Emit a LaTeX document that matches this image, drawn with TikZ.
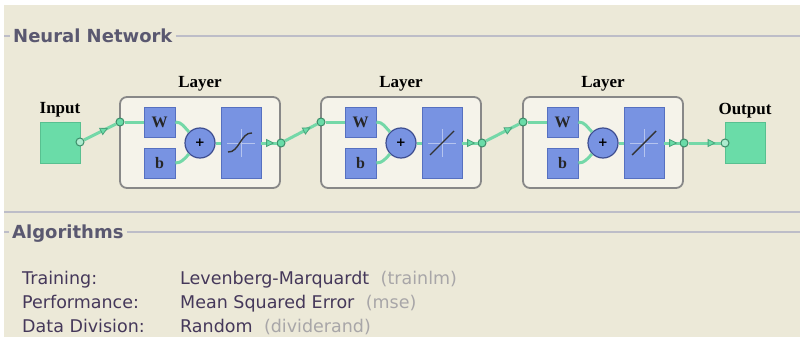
\documentclass[tikz,border=0pt]{standalone}
\usepackage{fontspec}
\setmainfont{DejaVu Sans}
\newfontfamily\netfont{Liberation Serif}
\usetikzlibrary{arrows.meta}
\usetikzlibrary{positioning}
\usetikzlibrary{decorations.markings}

\definecolor{panelbg}{HTML}{ECE9D8}
\definecolor{layerbg}{HTML}{F5F3EA}
\definecolor{layerline}{HTML}{888888}
\definecolor{nnblue}{HTML}{7893E2}
\definecolor{nnblueline}{HTML}{5670C0}
\definecolor{sumline}{HTML}{3E4E90}
\definecolor{nngreen}{HTML}{6ADCA8}
\definecolor{nngreenline}{HTML}{58C090}
\definecolor{wirecol}{HTML}{74D8A8}
\definecolor{juncline}{HTML}{3C8C68}
\definecolor{titlecol}{HTML}{5A5870}
\definecolor{keycol}{HTML}{45385A}
\definecolor{parencol}{HTML}{A8A6A8}
\definecolor{rulecol}{HTML}{BDBDC8}

\tikzset{
    panel/.style = {fill=layerbg, draw=layerline, line width=1.8pt, rounded corners=7pt,
        minimum width=160pt, minimum height=91pt, inner sep=0pt},
    weight/.style = {fill=nnblue, draw=nnblueline, line width=0.8pt, minimum width=31pt,
        minimum height=30pt, inner sep=0pt, text=black!85,
        font=\netfont\bfseries\fontsize{16}{16}\selectfont},
    sum/.style = {circle, fill=nnblue, draw=sumline, line width=1.2pt, minimum size=30pt,
        inner sep=0pt, font=\bfseries\fontsize{12}{12}\selectfont},
    transfer/.style = {fill=nnblue, draw=nnblueline, line width=0.8pt, minimum width=40pt,
        minimum height=71pt, inner sep=0pt},
    port/.style = {fill=nngreen, draw=nngreenline, line width=1pt, minimum width=40pt,
        minimum height=41pt, inner sep=0pt},
    junction/.style = {circle, fill=nngreen, draw=juncline, line width=1pt,
        minimum size=8pt, inner sep=0pt},
    socket/.style = {circle, fill=nngreen!55, draw=juncline, line width=1pt,
        minimum size=8pt, inner sep=0pt},
    wire/.style = {draw=wirecol, line width=3pt},
    flow/.style = {postaction=decorate, decoration={markings, mark=at position #1 with
        {\arrow{Triangle[length=8pt, width=8pt, fill=nngreen, color=juncline!70!nngreen, line width=0.8pt]}}}},
    curve/.style = {draw=black!80, line width=1.4pt},
    axis/.style = {draw=white!45!nnblue, line width=0.6pt},
    netlabel/.style = {font=\netfont\bfseries\fontsize{17}{17}\selectfont, inner sep=1pt},
    heading/.style = {font=\bfseries\fontsize{18}{18}\selectfont, text=titlecol, inner sep=3pt},
    rule/.style = {draw=rulecol, line width=1.5pt},
    key/.style = {font=\fontsize{17.5}{17.5}\selectfont, text=keycol, inner sep=0pt},
    paren/.style = {font=\fontsize{17.5}{17.5}\selectfont, text=parencol, inner sep=0pt}
}

\begin{document}
\begin{tikzpicture}[x=1pt, y=-1pt]
    \useasboundingbox (0,0) rectangle (800,337);
    \fill [white] (0,0) rectangle (800,337);
    \fill [panelbg] (4,5) rectangle (800,337);

    \node (nettitle) [heading, anchor=base west] at (10,43) {Neural Network};
    \coordinate (rulea) at (4,36);
    \coordinate (ruleb) at (800,36);
    \draw [rule] (rulea) -- (rulea -| nettitle.west);
    \draw [rule] (nettitle.east |- ruleb) -- (ruleb);
    \draw [rule] (4,212) -- (800,212);

    \node (inp) [port] at (60,142.5) {};
    \node (inlabel) [netlabel, above=3pt of inp] {Input};
    \node (ip) [socket] at (80,142) {};

    \node (L1) [panel] at (200,142.5) {};
    \node (lab1) [netlabel, above=4pt of L1] {Layer};
    \node (W1) [weight] at (159.5,122) {W};
    \node (B1) [weight] at (159.5,163) {b};
    \node (S1) [sum] at (200,143) {+};
    \node (F1) [transfer] at (241,143) {};
    \node (in1) [junction] at (120,122) {};
    \node (out1) [junction] at (281,143) {};

    \node (L2) [panel] at (401,142.5) {};
    \node (lab2) [netlabel, above=4pt of L2] {Layer};
    \node (W2) [weight] at (360.5,122) {W};
    \node (B2) [weight] at (360.5,163) {b};
    \node (S2) [sum] at (401,143) {+};
    \node (F2) [transfer] at (442,143) {};
    \node (in2) [junction] at (321,122) {};
    \node (out2) [junction] at (482,143) {};

    \node (L3) [panel] at (603,142.5) {};
    \node (lab3) [netlabel, above=4pt of L3] {Layer};
    \node (W3) [weight] at (562.5,122) {W};
    \node (B3) [weight] at (562.5,163) {b};
    \node (S3) [sum] at (603,143) {+};
    \node (F3) [transfer] at (644,143) {};
    \node (in3) [junction] at (523,122) {};
    \node (out3) [junction] at (684,143) {};

    \node (outp) [port] at (745,143) {};
    \node (outlabel) [netlabel, above=3pt of outp] {Output};
    \node (op) [socket] at (725,143) {};

    \draw [axis] ([xshift=-14pt]F1.center) -- ([xshift=14pt]F1.center);
    \draw [axis] ([yshift=-14pt]F1.center) -- ([yshift=14pt]F1.center);
    \draw [curve] ([shift={(-13,9)}]F1.center) .. controls ([shift={(-2,10)}]F1.center)
        and ([shift={(0,-11)}]F1.center) .. ([shift={(11,-10)}]F1.center);
    \draw [axis] ([xshift=-14pt]F2.center) -- ([xshift=14pt]F2.center);
    \draw [axis] ([yshift=-14pt]F2.center) -- ([yshift=14pt]F2.center);
    \draw [curve] ([shift={(-12,12)}]F2.center) -- ([shift={(12,-12)}]F2.center);
    \draw [axis] ([xshift=-14pt]F3.center) -- ([xshift=14pt]F3.center);
    \draw [axis] ([yshift=-14pt]F3.center) -- ([yshift=14pt]F3.center);
    \draw [curve] ([shift={(-12,12)}]F3.center) -- ([shift={(12,-12)}]F3.center);

    \draw [wire, flow=0.75] (ip) -- (in1);
    \draw [wire] (in1) -- (W1);
    \draw [wire] (W1.east) to [out=0, in=135] (S1);
    \draw [wire] (B1.east) to [out=0, in=-135] (S1);
    \draw [wire] (S1) -- (F1);
    \draw [wire, flow=0.85] (F1) -- (out1);

    \draw [wire, flow=0.8] (out1) -- (in2);
    \draw [wire] (in2) -- (W2);
    \draw [wire] (W2.east) to [out=0, in=135] (S2);
    \draw [wire] (B2.east) to [out=0, in=-135] (S2);
    \draw [wire] (S2) -- (F2);
    \draw [wire, flow=0.85] (F2) -- (out2);

    \draw [wire, flow=0.8] (out2) -- (in3);
    \draw [wire] (in3) -- (W3);
    \draw [wire] (W3.east) to [out=0, in=135] (S3);
    \draw [wire] (B3.east) to [out=0, in=-135] (S3);
    \draw [wire] (S3) -- (F3);
    \draw [wire, flow=0.85] (F3) -- (out3);
    \draw [wire, flow=0.85] (out3) -- (op);

    \node (algtitle) [heading, anchor=base west] at (9,238) {Algorithms};
    \coordinate (rulec) at (4,232);
    \coordinate (ruled) at (800,232);
    \draw [rule] (rulec) -- (rulec -| algtitle.west);
    \draw [rule] (algtitle.east |- ruled) -- (ruled);

    \node (trainkey) [key, anchor=base west] at (22,284) {Training:};
    \node (perfkey) [key, anchor=base west] at (22,308) {Performance:};
    \node (divkey) [key, anchor=base west] at (22,332) {Data Division:};

    \node (trainval) [key, anchor=base west] at (180,284) {Levenberg-Marquardt};
    \node (perfval) [key, anchor=base west] at (180,308) {Mean Squared Error};
    \node (divval) [key, anchor=base west] at (180,332) {Random};

    \node (trainfn) [paren, base right=11pt of trainval] {(trainlm)};
    \node (perffn) [paren, base right=11pt of perfval] {(mse)};
    \node (divfn) [paren, base right=11pt of divval] {(dividerand)};
\end{tikzpicture}
\end{document}
